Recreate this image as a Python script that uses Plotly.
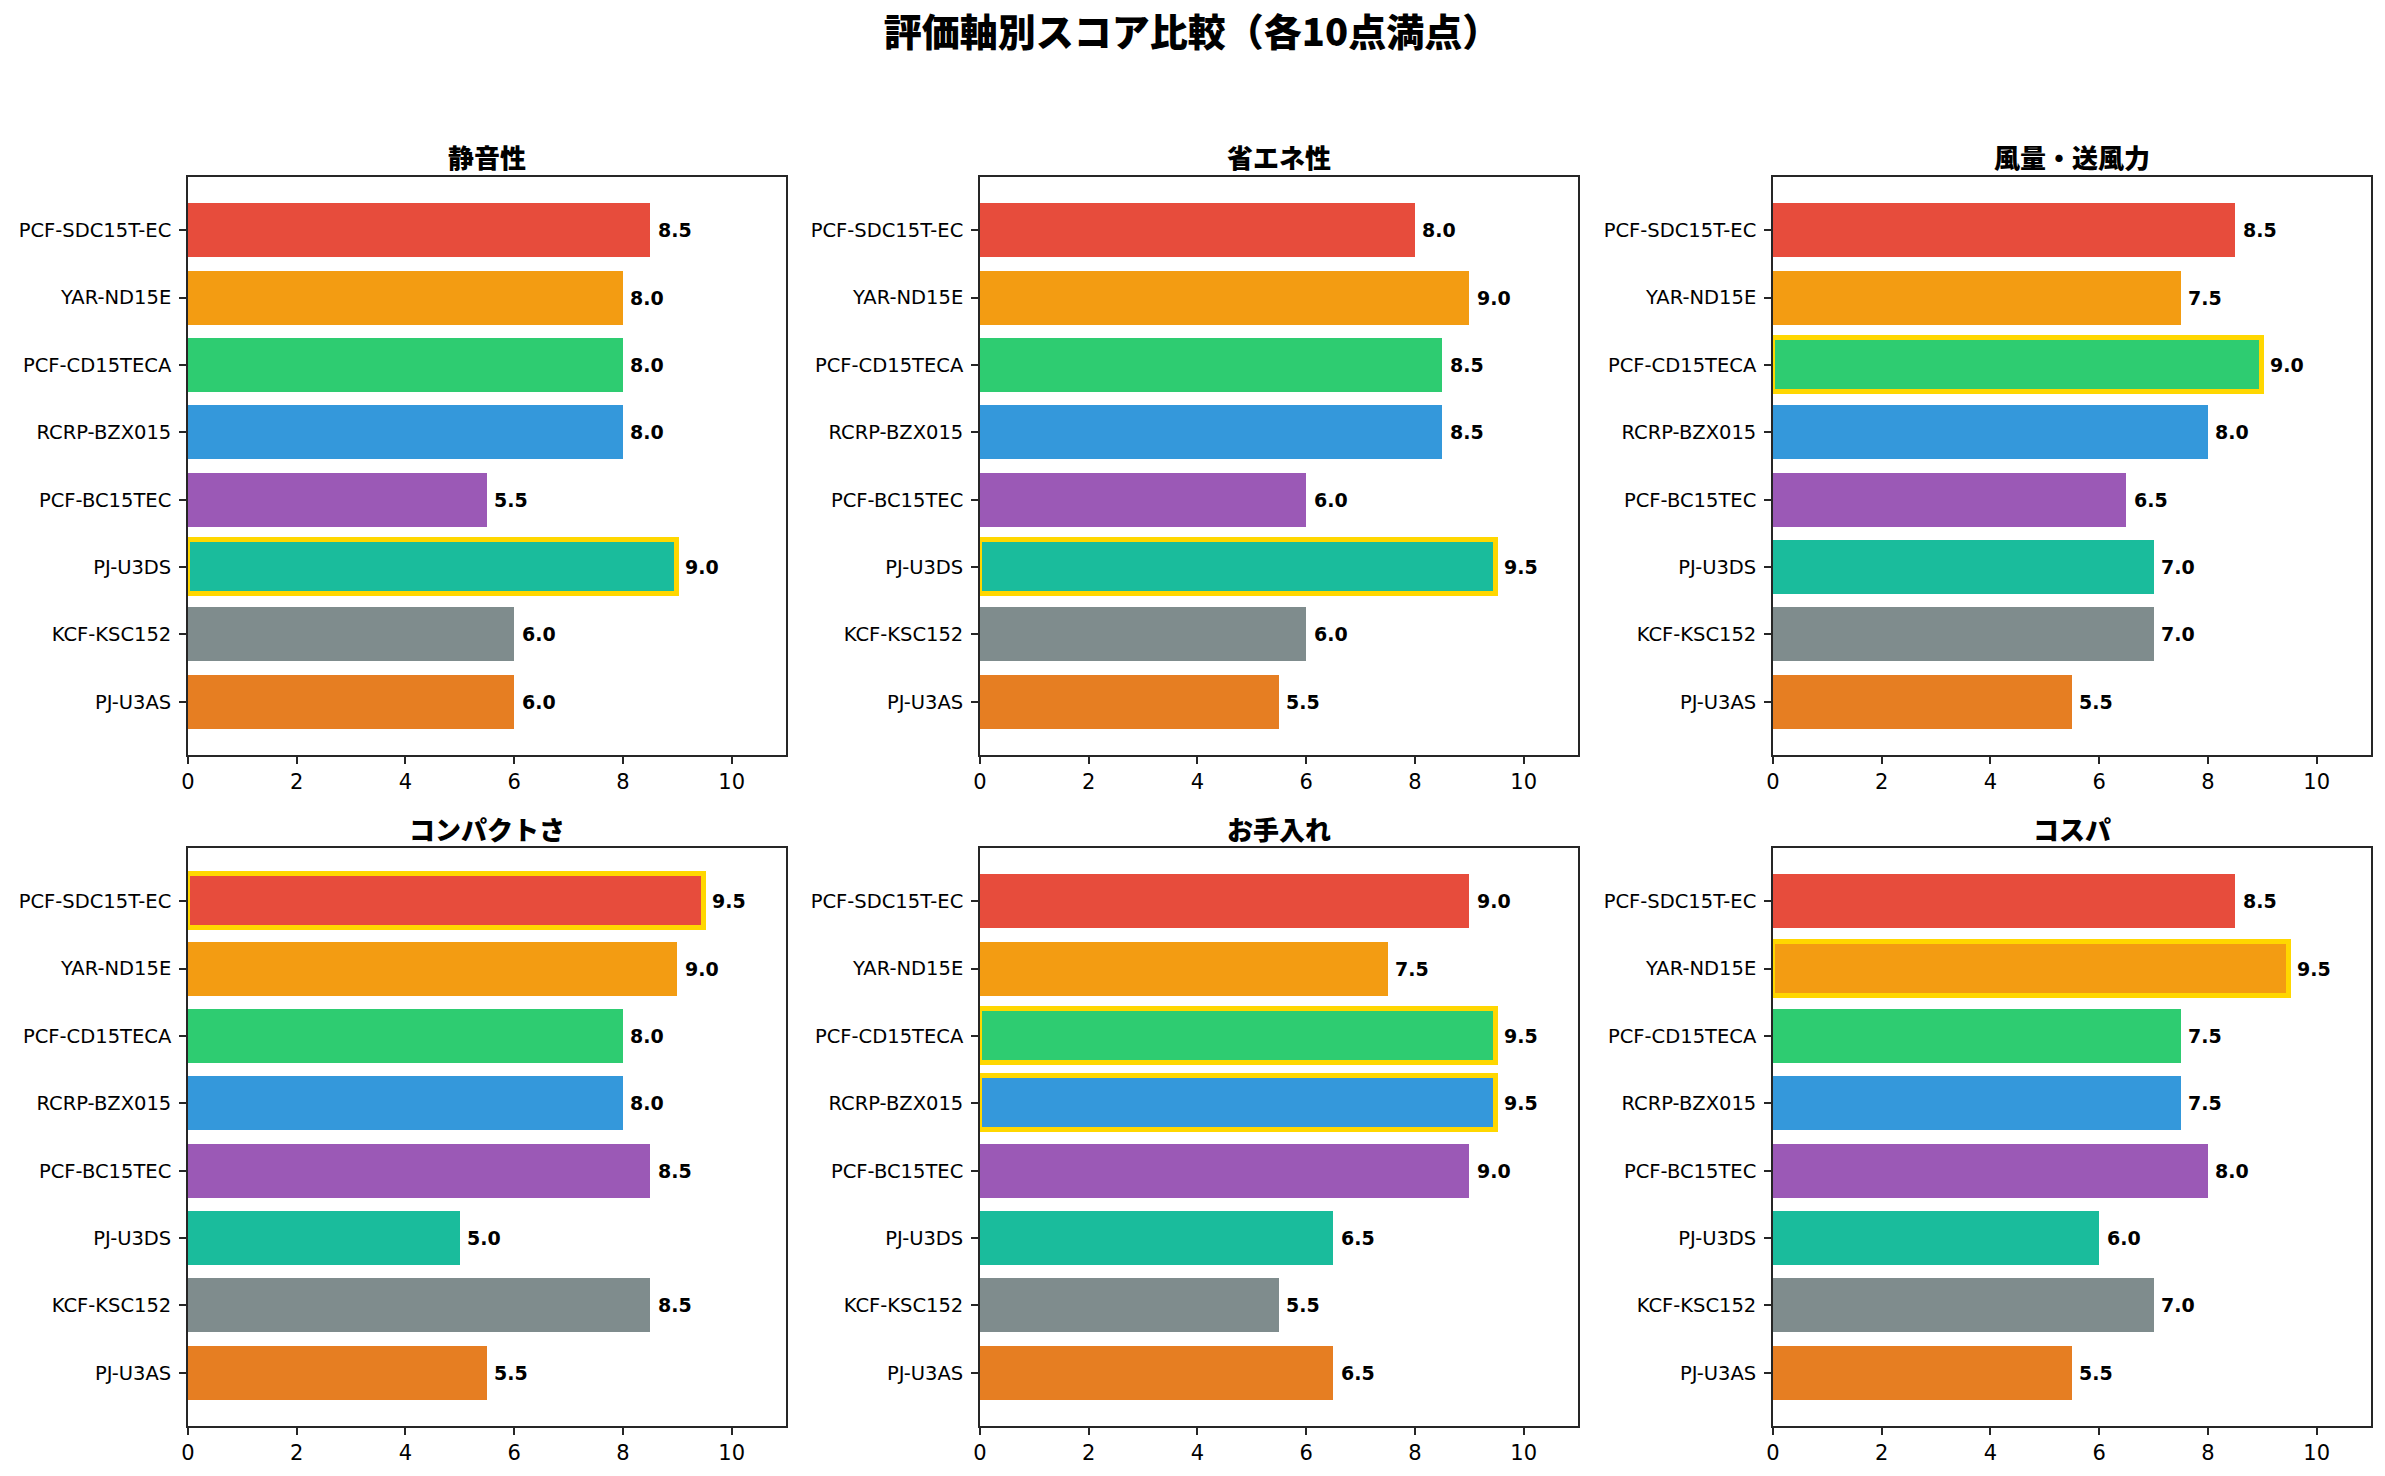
import plotly.graph_objects as go
from plotly.subplots import make_subplots

# Products / colours (top to bottom)
products = ['PCF-SDC15T-EC', 'YAR-ND15E', 'PCF-CD15TECA', 'RCRP-BZX015',
            'PCF-BC15TEC', 'PJ-U3DS', 'KCF-KSC152', 'PJ-U3AS']
colors = ['#e74c3c', '#f39c12', '#2ecc71', '#3498db',
          '#9b59b6', '#1abc9c', '#7f8c8d', '#e67e22']

criteria = ['静音性', '省エネ性', '風量・送風力', 'コンパクトさ', 'お手入れ', 'コスパ']

quiet = [8.5, 8.0, 8.0, 8.0, 5.5, 9.0, 6.0, 6.0]
energy = [8.0, 9.0, 8.5, 8.5, 6.0, 9.5, 6.0, 5.5]
airflow = [8.5, 7.5, 9.0, 8.0, 6.5, 7.0, 7.0, 5.5]
compact = [9.5, 9.0, 8.0, 8.0, 8.5, 5.0, 8.5, 5.5]
care = [9.0, 7.5, 9.5, 9.5, 9.0, 6.5, 5.5, 6.5]
cost = [8.5, 9.5, 7.5, 7.5, 8.0, 6.0, 7.0, 5.5]

all_scores = [quiet, energy, airflow, compact, care, cost]

# page has an 8px body margin, so the figure is a bit smaller and shifted
OFF = 8
W, H = 2385 - 2 * OFF, 1476 - 2 * OFF
FONT = 'DejaVu Sans, Noto Sans CJK JP'
CJK = 'Noto Sans CJK JP'
AXC = '#262626'

# axes boxes in window pixels (left, right) / (top, bottom)
col_px = [(188, 786), (980, 1578), (1773, 2371)]
row_px = [(177, 755), (848, 1426)]


def px_x(p):
    return (p - OFF) / W


def px_y(p):
    return 1 - (p - OFF) / H


fig = make_subplots(rows=2, cols=3, horizontal_spacing=0.05, vertical_spacing=0.08)

for i, (name, vals) in enumerate(zip(criteria, all_scores)):
    r, c = i // 3 + 1, i % 3 + 1
    best = max(vals)
    lw = [5 if v == best else 0 for v in vals]
    fig.add_trace(go.Bar(x=vals, y=products, orientation='h', width=0.8,
                         marker=dict(color=colors, line=dict(color='#FFD700', width=lw)),
                         showlegend=False), row=r, col=c)
    for p, v in zip(products, vals):
        fig.add_annotation(x=v + 0.1, y=p, text='<b>%.1f</b>' % v, showarrow=False,
                           xanchor='left', yanchor='middle',
                           font=dict(size=19, color='black'), row=r, col=c)

    x0, x1 = col_px[c - 1]
    y0, y1 = row_px[r - 1]
    fig.update_xaxes(domain=[px_x(x0), px_x(x1)], range=[0, 11], dtick=2, tick0=0,
                     showgrid=False, zeroline=False, showline=True, mirror=True,
                     linecolor=AXC, linewidth=1.7, ticks='outside', ticklen=7,
                     tickwidth=1.7, tickcolor=AXC, tickfont=dict(size=21, color='black'),
                     row=r, col=c)
    fig.update_yaxes(domain=[px_y(y1), px_y(y0)], range=[7.79, -0.79],
                     showgrid=False, zeroline=False, showline=True, mirror=True,
                     linecolor=AXC, linewidth=1.7, ticks='outside', ticklen=7,
                     tickwidth=1.7, tickcolor=AXC, tickfont=dict(size=19.5, color='black'),
                     ticklabelstandoff=4, row=r, col=c)
    fig.add_annotation(x=px_x((x0 + x1) / 2), y=px_y(y0 - 20), xref='paper', yref='paper',
                       text=name, showarrow=False, xanchor='center', yanchor='middle',
                       font=dict(family=CJK, size=26, color='black', weight=900))

fig.update_layout(
    width=W, height=H,
    margin=dict(l=0, r=0, t=0, b=0, autoexpand=False),
    paper_bgcolor='white', plot_bgcolor='white',
    font=dict(family=FONT, color='black'),
    title=dict(text='評価軸別スコア比較（各10点満点）', x=px_x(1192), xanchor='center',
               y=px_y(33), yanchor='middle',
               font=dict(family=CJK, size=38, color='black', weight=900)),
    bargap=0,
)

fig.write_html("out.html")
